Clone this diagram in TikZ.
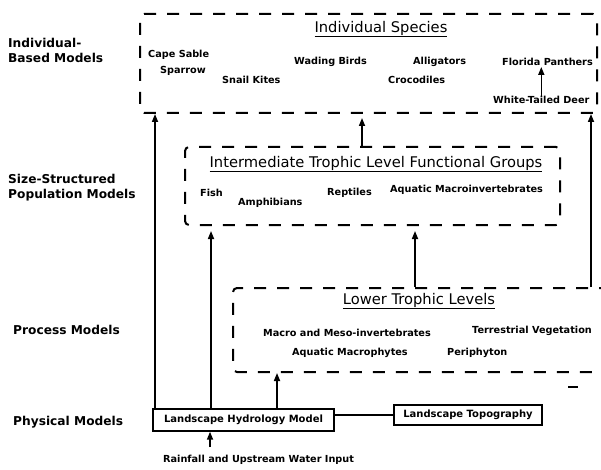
\documentclass[tikz,border=0pt]{standalone}
\usepackage{fontspec}
\setmainfont{DejaVu Sans}
\usetikzlibrary{arrows.meta}
\tikzset{
	group/.style={draw, line width=2pt, dash pattern=on 12pt off 11pt, rounded corners=4pt, inner sep=0pt},
	model/.style={draw, line width=1.4pt, inner sep=0pt, font=\bfseries\fontsize{10}{12}\selectfont},
	conn/.style={line width=1.6pt, -{Triangle[length=8pt,width=6pt]}},
	item/.style={anchor=west, inner sep=0pt, font=\bfseries\fontsize{9.7}{11}\selectfont},
	level/.style={anchor=west, inner sep=0pt, align=left, font=\bfseries\fontsize{12.2}{15}\selectfont},
	head/.style={inner sep=0pt, font=\fontsize{14.7}{17}\selectfont},
}

\begin{document}
\begin{tikzpicture}[x=1pt, y=-1pt]
			%%%%% START %%%%%
			\useasboundingbox (0, 0) rectangle (601, 470);
			
			% model levels
			\node[level] (ibm) at (8, 50.5) {Individual-\\Based Models};
			\node[level] (ssm) at (8, 187.5) {Size-Structured\\Population Models};
			\node[level] (pm) at (13, 330) {Process Models};
			\node[level] (phm) at (13, 422) {Physical Models};
			
			% groups
			\node[group, minimum width=457, minimum height=99] (species) at (368.5, 63.5) {};
			\node[group, minimum width=375, minimum height=78] (inter) at (372.5, 186) {};
			\node[group, minimum width=382, minimum height=84] (lower) at (424, 330) {};
			
			\node[head] (hspecies) at (381, 29) {\underline{Individual Species}};
			\node[head] (hinter) at (376, 164) {\underline{Intermediate Trophic Level Functional Groups}};
			\node[head] (hlower) at (419, 301) {\underline{Lower Trophic Levels}};
			
			\node[item] (sable) at (148, 55) {Cape Sable};
			\node[item] (sparrow) at (160, 71) {Sparrow};
			\node[item] (kites) at (222, 80) {Snail Kites};
			\node[item] (birds) at (294, 62) {Wading Birds};
			\node[item] (gators) at (413, 62) {Alligators};
			\node[item] (crocs) at (388, 80) {Crocodiles};
			\node[item] (panthers) at (502, 62) {Florida Panthers};
			\node[item] (deer) at (493, 100) {White-Tailed Deer};
			
			\node[item] (fish) at (200, 193) {Fish};
			\node[item] (amph) at (238, 203) {Amphibians};
			\node[item] (rept) at (327, 193) {Reptiles};
			\node[item] (macinv) at (390, 190) {Aquatic Macroinvertebrates};
			
			\node[item] (meso) at (263, 333) {Macro and Meso-invertebrates};
			\node[item] (veg) at (472, 331) {Terrestrial Vegetation};
			\node[item] (macph) at (292, 353) {Aquatic Macrophytes};
			\node[item] (peri) at (447, 353) {Periphyton};
			
			% physical models
			\node[model, minimum width=181, minimum height=22] (hydro) at (243.5, 420) {Landscape Hydrology Model};
			\node[model, minimum width=148, minimum height=20] (topo) at (468, 415) {Landscape Topography};
			\node[item] (rain) at (163, 460) {Rainfall and Upstream Water Input};
			
			\coordinate (h1) at (155, 0);
			\coordinate (h2) at (211, 0);
			\coordinate (h3) at (277, 0);
			\coordinate (i1) at (362, 0);
			\coordinate (l1) at (415, 0);
			\coordinate (l2) at (591, 0);
			\coordinate (r1) at (210, 0);
			
			\draw[conn] (hydro.north -| h1) -- (species.south -| h1);
			\draw[conn, shorten >=5pt] (hydro.north -| h2) -- (inter.south -| h2);
			\draw[conn] (hydro.north -| h3) -- (lower.south -| h3);
			\draw[conn, shorten >=5pt] (lower.north -| l1) -- (inter.south -| l1);
			\draw[conn, shorten >=4pt] (inter.north -| i1) -- (species.south -| i1);
			\draw[conn] (lower.north -| l2) -- (species.south -| l2);
			\draw[conn, shorten >=1pt] (deer.north) -- (deer.north |- panthers.south);
			\draw[conn, shorten <=8pt] (rain.north -| r1) -- (hydro.south -| r1);
			\draw[line width=1.4pt] (hydro.east |- topo.west) -- (topo.west);
			
			\draw[line width=1.4pt] (568, 387) -- (578, 387);
			
			%%%%% END %%%%%
		\end{tikzpicture}
\end{document}
